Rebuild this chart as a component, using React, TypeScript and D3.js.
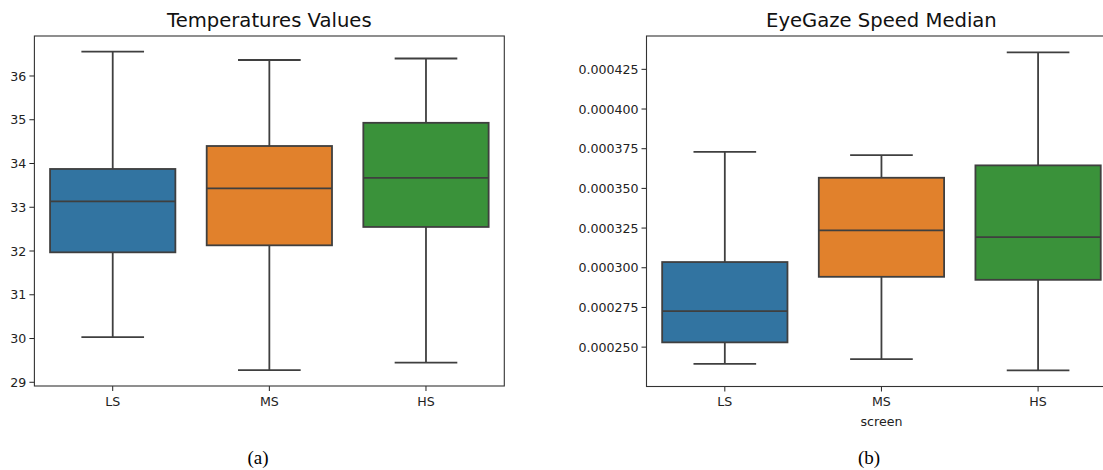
import React from "react";
import * as d3 from "d3";

const categories = ["LS", "MS", "HS"];
const colors = ["#3274a1", "#e1812c", "#3a923a"];

// Temperature box stats: [low whisker, q1, median, q3, high whisker]
const tempLow = [30.03, 29.28, 29.45];
const tempQ1 = [31.97, 32.13, 32.55];
const tempMedian = [33.136, 33.43, 33.67];
const tempQ3 = [33.875, 34.4, 34.93];
const tempHigh = [36.555, 36.366, 36.4];
const tempTicks = [29, 30, 31, 32, 33, 34, 35, 36];

// EyeGaze speed median stats
const gazeLow = [0.0002395, 0.0002425, 0.0002353];
const gazeQ1 = [0.000253, 0.0002943, 0.0002924];
const gazeMedian = [0.0002727, 0.0003235, 0.0003193];
const gazeQ3 = [0.0003036, 0.0003567, 0.0003645];
const gazeHigh = [0.000373, 0.000371, 0.0004357];
const gazeTicks = [0.00025, 0.000275, 0.0003, 0.000325, 0.00035, 0.000375, 0.0004, 0.000425];

const FONT = "DejaVu Sans, sans-serif";
const LINE = "#3f3f3f";

type PanelProps = {
  x0: number;
  x1: number;
  top: number;
  bottom: number;
  domain: [number, number];
  ticks: number[];
  fmt: (v: number) => string;
  title: string;
  xLabel?: string;
  low: number[];
  q1: number[];
  med: number[];
  q3: number[];
  high: number[];
};

function Panel(p: PanelProps) {
  const x = d3.scaleBand<string>().domain(categories).range([p.x0, p.x1]).padding(0);
  const y = d3.scaleLinear().domain(p.domain).range([p.bottom, p.top]);
  const bw = x.bandwidth();
  return (
    <g>
      <text x={(p.x0 + p.x1) / 2} y={27} textAnchor="middle" fontFamily={FONT} fontSize={19.6} fill="#111">
        {p.title}
      </text>
      {categories.map((c, i) => {
        const cx = x(c)! + bw / 2;
        const hw = bw * 0.4;
        const cw = bw * 0.2;
        return (
          <g key={c}>
            <line x1={cx} x2={cx} y1={y(p.q3[i])} y2={y(p.high[i])} stroke={LINE} strokeWidth={1.8} />
            <line x1={cx} x2={cx} y1={y(p.q1[i])} y2={y(p.low[i])} stroke={LINE} strokeWidth={1.8} />
            <line x1={cx - cw} x2={cx + cw} y1={y(p.high[i])} y2={y(p.high[i])} stroke={LINE} strokeWidth={1.8} />
            <line x1={cx - cw} x2={cx + cw} y1={y(p.low[i])} y2={y(p.low[i])} stroke={LINE} strokeWidth={1.8} />
            <rect
              x={cx - hw}
              y={y(p.q3[i])}
              width={hw * 2}
              height={y(p.q1[i]) - y(p.q3[i])}
              fill={colors[i]}
              stroke={LINE}
              strokeWidth={1.8}
            />
            <line x1={cx - hw} x2={cx + hw} y1={y(p.med[i])} y2={y(p.med[i])} stroke={LINE} strokeWidth={1.8} />
            <line x1={cx} x2={cx} y1={p.bottom} y2={p.bottom + 5} stroke="#222" strokeWidth={1} />
            <text x={cx} y={406} textAnchor="middle" fontFamily={FONT} fontSize={12.6} fill="#222">
              {c}
            </text>
          </g>
        );
      })}
      {p.ticks.map((t) => (
        <g key={t}>
          <line x1={p.x0 - 5} x2={p.x0} y1={y(t)} y2={y(t)} stroke="#222" strokeWidth={1} />
          <text x={p.x0 - 8} y={y(t)} dy="0.36em" textAnchor="end" fontFamily={FONT} fontSize={12.6} fill="#222">
            {p.fmt(t)}
          </text>
        </g>
      ))}
      <rect x={p.x0} y={p.top} width={p.x1 - p.x0} height={p.bottom - p.top} fill="none" stroke="#333" strokeWidth={1.1} />
      {p.xLabel && (
        <text x={(p.x0 + p.x1) / 2} y={426} textAnchor="middle" fontFamily={FONT} fontSize={12.6} fill="#222">
          {p.xLabel}
        </text>
      )}
    </g>
  );
}

export default function App() {
  return (
    <svg
      width={1103}
      height={470}
      style={{ position: "absolute", left: 0, top: 0, display: "block", background: "#fff" }}
    >
      <rect width={1103} height={470} fill="#fff" />
      <Panel
        x0={34.4}
        x1={504.3}
        top={36}
        bottom={386}
        domain={[28.915, 36.914]}
        ticks={tempTicks}
        fmt={(v) => d3.format("d")(v)}
        title="Temperatures Values"
        low={tempLow}
        q1={tempQ1}
        med={tempMedian}
        q3={tempQ3}
        high={tempHigh}
      />
      <Panel
        x0={646.5}
        x1={1116.4}
        top={36}
        bottom={386.5}
        domain={[0.0002252, 0.000446]}
        ticks={gazeTicks}
        fmt={(v) => d3.format(".6f")(v)}
        title="EyeGaze Speed Median"
        xLabel="screen"
        low={gazeLow}
        q1={gazeQ1}
        med={gazeMedian}
        q3={gazeQ3}
        high={gazeHigh}
      />
      <text x={258} y={464} textAnchor="middle" fontFamily="Liberation Serif, serif" fontSize={19}>
        (a)
      </text>
      <text x={869} y={464} textAnchor="middle" fontFamily="Liberation Serif, serif" fontSize={19}>
        (b)
      </text>
    </svg>
  );
}
